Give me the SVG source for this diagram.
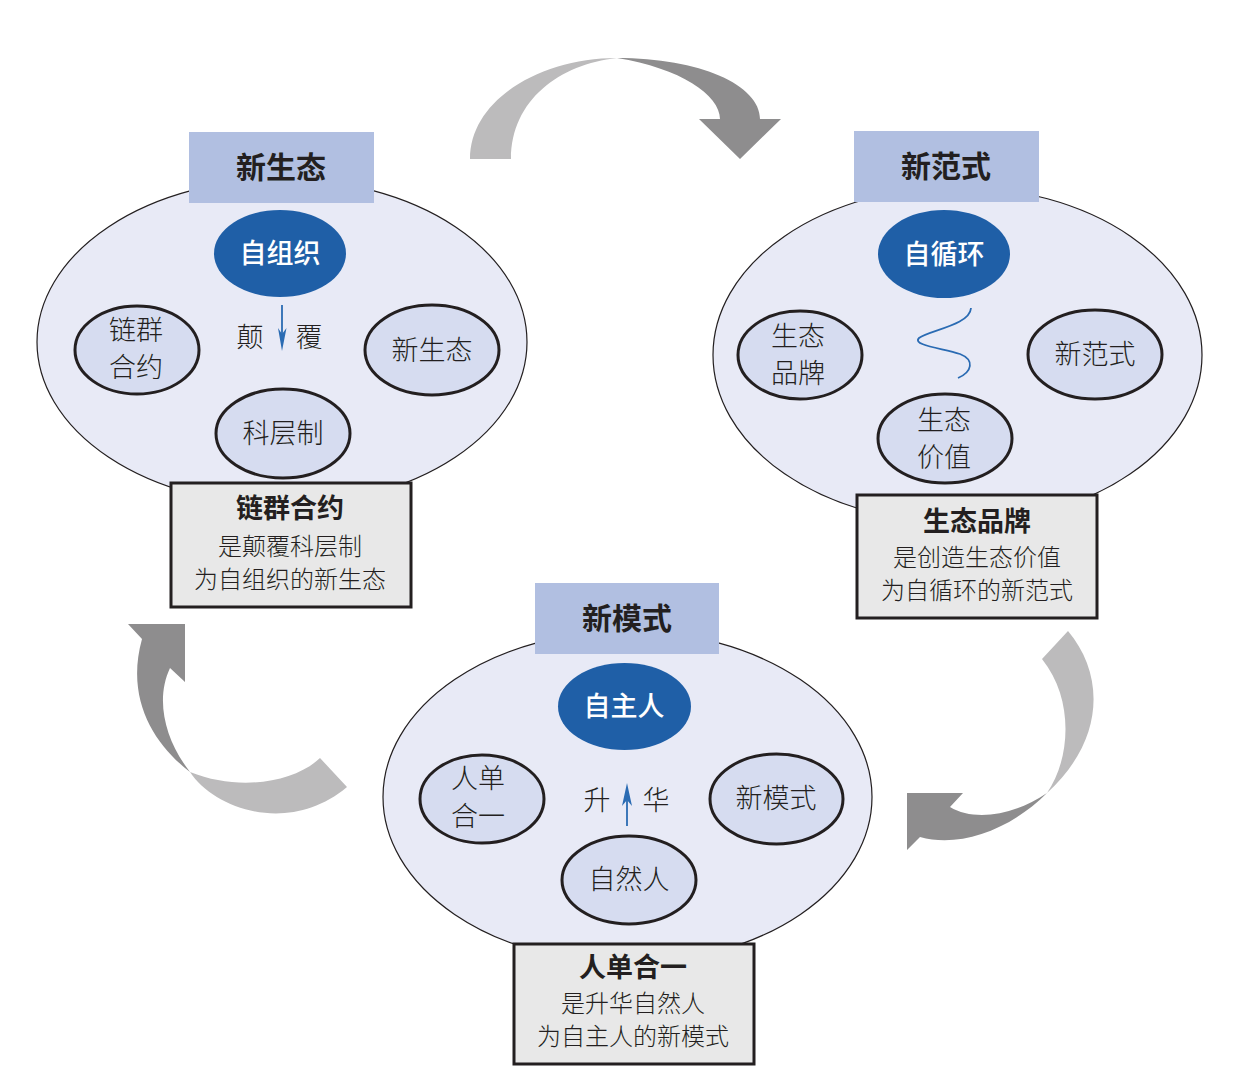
<svg xmlns="http://www.w3.org/2000/svg" width="1257" height="1077" viewBox="0 0 1257 1077">
<style>
.big{fill:#e8eaf6;stroke:#231f20;stroke-width:1.2}
.title{fill:#b1bfe1}
.ttl{font-family:"Noto Sans CJK SC","Noto Sans",sans-serif;font-weight:700;font-size:30px;fill:#231f20;text-anchor:middle}
.blue{fill:#1f5fa7}
.btxt{font-family:"Noto Sans CJK SC","Noto Sans",sans-serif;font-weight:500;font-size:27px;fill:#ffffff;text-anchor:middle}
.small{fill:#d6dcf0;stroke:#231f20;stroke-width:3}
.stxt{font-family:"Noto Sans CJK SC","Noto Sans",sans-serif;font-weight:300;font-size:27px;fill:#231f20;text-anchor:middle}
.box{fill:#e8e8e8;stroke:#231f20;stroke-width:3}
.bt{font-family:"Noto Sans CJK SC","Noto Sans",sans-serif;font-weight:700;font-size:27px;fill:#231f20;text-anchor:middle}
.bl{font-family:"Noto Sans CJK SC","Noto Sans",sans-serif;font-weight:300;font-size:24px;fill:#231f20;text-anchor:middle}
.mid{font-family:"Noto Sans CJK SC","Noto Sans",sans-serif;font-weight:300;font-size:27px;fill:#231f20;text-anchor:middle}
.light{fill:#bcbbbc}
.dark{fill:#8e8d8e}
.bline{stroke:#2a6bb3;stroke-width:1.8;fill:none}
.bhead{fill:#2a6bb3}
</style>
<rect width="1257" height="1077" fill="#ffffff"/>

<g id="connectors">
  <g id="arrow-top">
    <path class="light" d="M470,159 C470,100 540,58 617,58 C560,64 511,100 511,159 Z"/>
    <path class="dark" d="M617,58 C700,58 760,85 760,119 L781,119 L740,159 L699,119 L720,119 C720,95 680,68 617,58 Z"/>
  </g>
  <g id="arrow-right">
    <path class="light" d="M1042,659 L1068,631 C1105,675 1105,740 1047,793 C1070,760 1075,700 1042,659 Z"/>
    <path class="dark" d="M907,793 L963,793 L950,807 C975,822 1015,815 1047,793 C1010,830 960,848 920,837 L907,850 Z"/>
  </g>
  <g id="arrow-left">
    <path class="dark" d="M128,624 L185,624 L185,682 L170,668 C155,700 165,740 190,772 C155,745 125,700 142,639 Z"/>
    <path class="light" d="M190,772 C215,810 290,835 347,787 L320,758 C295,782 240,792 190,772 Z"/>
  </g>
</g>

<g id="cluster-ecology">
  <ellipse class="big" cx="282" cy="342" rx="245" ry="163"/>
  <rect class="title" x="189" y="132" width="185" height="71"/>
  <text class="ttl" x="281" y="178">新生态</text>
  <g id="node-ziuzhi">
    <ellipse class="blue" cx="280" cy="253.5" rx="66" ry="43.5"/>
    <text class="btxt" x="280" y="263">自组织</text>
  </g>
  <g id="node-lianqun">
    <ellipse class="small" cx="137" cy="350" rx="62" ry="44"/>
    <text class="stxt" x="136" y="340">链群</text>
    <text class="stxt" x="136" y="377">合约</text>
  </g>
  <g id="node-xinshengtai">
    <ellipse class="small" cx="432" cy="350" rx="67" ry="45"/>
    <text class="stxt" x="432" y="360">新生态</text>
  </g>
  <g id="node-kecengzhi">
    <ellipse class="small" cx="283" cy="433.5" rx="67" ry="44.5"/>
    <text class="stxt" x="283" y="443">科层制</text>
  </g>
  <text class="mid" x="250" y="347">颠</text>
  <text class="mid" x="309" y="347">覆</text>
  <line class="bline" x1="282" y1="305" x2="282" y2="338"/>
  <path class="bhead" d="M282,351 L278,328 L282,334 L286.5,328 Z"/>
  <g id="box-ecology">
    <rect class="box" x="171" y="483" width="240" height="124"/>
    <text class="bt" x="290" y="518">链群合约</text>
    <text class="bl" x="290" y="555">是颠覆科层制</text>
    <text class="bl" x="290" y="588">为自组织的新生态</text>
  </g>
</g>

<g id="cluster-paradigm">
  <ellipse class="big" cx="957.5" cy="355" rx="244.5" ry="168"/>
  <rect class="title" x="854" y="131" width="185" height="71"/>
  <text class="ttl" x="946" y="177">新范式</text>
  <g id="node-zixunhuan">
    <ellipse class="blue" cx="944" cy="254" rx="66" ry="44"/>
    <text class="btxt" x="944" y="264">自循环</text>
  </g>
  <g id="node-shengtaipinpai">
    <ellipse class="small" cx="800" cy="355" rx="62" ry="44"/>
    <text class="stxt" x="798" y="346">生态</text>
    <text class="stxt" x="798" y="383">品牌</text>
  </g>
  <g id="node-xinfanshi">
    <ellipse class="small" cx="1095" cy="354.5" rx="67" ry="44.5"/>
    <text class="stxt" x="1095" y="364">新范式</text>
  </g>
  <g id="node-shengtaijiazhi">
    <ellipse class="small" cx="945" cy="438.5" rx="67" ry="44.5"/>
    <text class="stxt" x="944" y="430">生态</text>
    <text class="stxt" x="944" y="467">价值</text>
  </g>
  <path class="bline" stroke-width="1.6" d="M971,308 C970,325 930,330 919,338 C912,345 940,348 960,354 C975,360 972,372 958,378"/>
  <g id="box-paradigm">
    <rect class="box" x="857" y="495" width="240" height="123"/>
    <text class="bt" x="977" y="531">生态品牌</text>
    <text class="bl" x="977" y="566">是创造生态价值</text>
    <text class="bl" x="977" y="599">为自循环的新范式</text>
  </g>
</g>

<g id="cluster-mode">
  <ellipse class="big" cx="627.5" cy="797" rx="244.5" ry="166"/>
  <rect class="title" x="535" y="583" width="184" height="71"/>
  <text class="ttl" x="627" y="629">新模式</text>
  <g id="node-zizhuren">
    <ellipse class="blue" cx="624.5" cy="706.5" rx="66.5" ry="43.5"/>
    <text class="btxt" x="624" y="716">自主人</text>
  </g>
  <g id="node-rendanheyi">
    <ellipse class="small" cx="482" cy="799" rx="62" ry="44"/>
    <text class="stxt" x="478" y="788">人单</text>
    <text class="stxt" x="478" y="826">合一</text>
  </g>
  <g id="node-xinmoshi">
    <ellipse class="small" cx="776.5" cy="799" rx="66.5" ry="45"/>
    <text class="stxt" x="776" y="808">新模式</text>
  </g>
  <g id="node-ziranren">
    <ellipse class="small" cx="629" cy="880" rx="67" ry="44"/>
    <text class="stxt" x="629" y="889">自然人</text>
  </g>
  <text class="mid" x="597" y="810">升</text>
  <text class="mid" x="656" y="810">华</text>
  <line class="bline" x1="627" y1="796" x2="627" y2="826"/>
  <path class="bhead" d="M627,783 L632,806 L627,800 L622,806 Z"/>
  <g id="box-mode">
    <rect class="box" x="514" y="944" width="240" height="120"/>
    <text class="bt" x="633" y="977" font-size="26">人单合一</text>
    <text class="bl" x="633" y="1012" font-size="23">是升华自然人</text>
    <text class="bl" x="633" y="1045" font-size="23">为自主人的新模式</text>
  </g>
</g>
</svg>
